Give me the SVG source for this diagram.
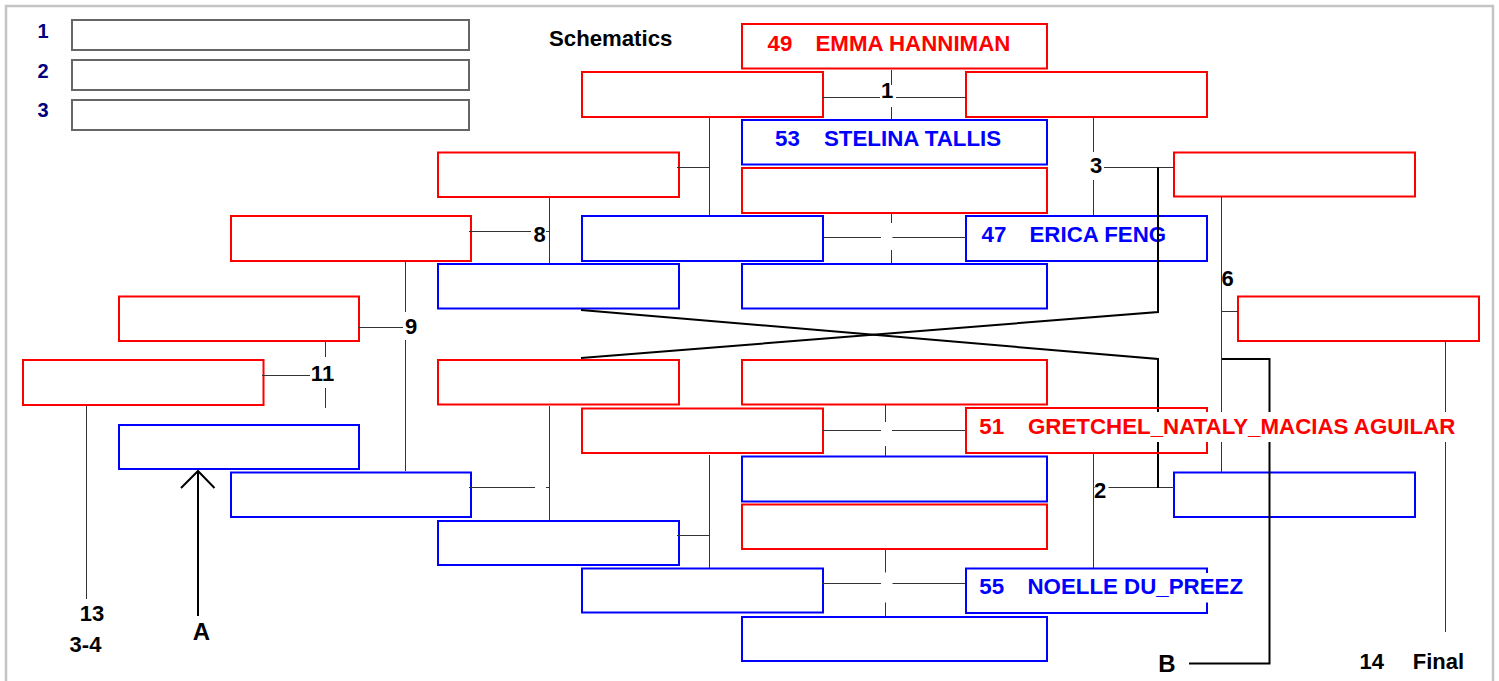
<svg xmlns="http://www.w3.org/2000/svg" width="1499" height="681" viewBox="0 0 1499 681">
<style>
.r{fill:#fff;stroke:#f00;stroke-width:2}
.rn{fill:none;stroke:#f00;stroke-width:2}
.b{fill:#fff;stroke:#00f;stroke-width:2}
.bn{fill:none;stroke:#00f;stroke-width:2}
.lg{fill:#fff;stroke:#666;stroke-width:2}
.c{stroke:#333;stroke-width:1;fill:none}
.k{stroke:#000;stroke-width:2;fill:none}
.bg{fill:#fff}
text{font-family:"Liberation Sans",Arial,sans-serif;font-weight:bold;font-size:22px}
.tr{fill:#f00;font-size:22.3px}.tb{fill:#00f;font-size:22.3px}.n{fill:#000}
.ln{fill:#000080;font-size:20px}
</style>
<rect x="6" y="6" width="1487" height="700" fill="#fff" stroke="#c4c4c4" stroke-width="2.5"/>
<g id="legend">
<text class="ln" x="43" y="37.5" text-anchor="middle">1</text>
<text class="ln" x="43" y="77.5" text-anchor="middle">2</text>
<text class="ln" x="43" y="117" text-anchor="middle">3</text>
<rect class="lg" x="72" y="20" width="397" height="30"/>
<rect class="lg" x="72" y="60" width="397" height="30"/>
<rect class="lg" x="72" y="100" width="397" height="30"/>
</g>
<text id="title" class="n" x="549" y="45.5" style="font-size:22.2px">Schematics</text>
<g id="n49"><rect class="r" x="742" y="24" width="305" height="44.5"/><text class="tr" y="50.7"><tspan x="767.5">49</tspan><tspan x="815.5">EMMA HANNIMAN</tspan></text></g>
<g id="n53"><rect class="b" x="742" y="120" width="305" height="44.5"/><text class="tb" y="146"><tspan x="775">53</tspan><tspan x="824">STELINA TALLIS</tspan></text></g>
<g id="c1r"><rect class="r" x="742" y="168" width="305" height="45"/></g>
<g id="c2b"><rect class="b" x="742" y="264" width="305" height="44.5"/></g>
<g id="c3r"><rect class="r" x="742" y="360" width="305" height="44.5"/></g>
<g id="c4b"><rect class="b" x="742" y="456.5" width="305" height="45"/></g>
<g id="c5r"><rect class="r" x="742" y="504.5" width="305" height="44.5"/></g>
<g id="c6b"><rect class="b" x="742" y="617" width="305" height="44"/></g>
<g id="m1r"><rect class="r" x="582" y="72" width="241" height="45"/></g>
<g id="m2b"><rect class="b" x="582" y="216" width="241" height="45"/></g>
<g id="m3r"><rect class="r" x="582" y="408.5" width="241" height="44.5"/></g>
<g id="m4b"><rect class="b" x="582" y="568.5" width="241" height="44"/></g>
<g id="q1r"><rect class="r" x="966" y="72" width="241" height="45"/></g>
<g id="n47"><rect class="b" x="966" y="216" width="241" height="45"/><text class="tb" y="241.7"><tspan x="981.5">47</tspan><tspan x="1029.5">ERICA FENG</tspan></text></g>
<g id="l1r"><rect class="r" x="438" y="152.5" width="241" height="44.5"/></g>
<g id="l2b"><rect class="b" x="438" y="264" width="241" height="44.5"/></g>
<g id="l3r"><rect class="r" x="438" y="360" width="241" height="44.5"/></g>
<g id="l4b"><rect class="b" x="438" y="521" width="241" height="44"/></g>
<g id="k1r"><rect class="r" x="231" y="216" width="240" height="45"/></g>
<g id="k2b"><rect class="b" x="231" y="472.5" width="240" height="44.5"/></g>
<g id="j1r"><rect class="r" x="119" y="296.5" width="240" height="44.5"/></g>
<g id="j2b"><rect class="b" x="119" y="425" width="240" height="44"/></g>
<g id="i1r"><rect class="r" x="23" y="360" width="240.5" height="45"/></g>
<g id="s1r"><rect class="r" x="1174" y="152.5" width="241" height="44"/></g>
<g id="s2b"><rect class="b" x="1174" y="472.5" width="241" height="44.5"/></g>
<g id="f1r"><rect class="r" x="1238" y="296.5" width="241" height="44.5"/></g>
<g id="connectors">
<path class="c" d="M822 97.5H966M891.5 70V119"/>
<path class="c" d="M824 237.5H966M891.5 214V263"/>
<path class="c" d="M822 430.5H966M885.5 405V456"/>
<path class="c" d="M822 583.5H966M885.5 550V616"/>
<path class="c" d="M709.5 118V215M677 167.5H709.5"/>
<path class="c" d="M549.5 198V263M469 231.5H549.5"/>
<path class="c" d="M405.5 261V471M358 327.5H405.5"/>
<path class="c" d="M325.5 342V408M262 375.5H325.5"/>
<path class="c" d="M549.5 406V520M469 487.5H549.5"/>
<path class="c" d="M709.5 455V568M677 535.5H709.5"/>
<path class="c" d="M86.5 406V599"/>
<path class="c" d="M1093.5 117V215M1093.5 167.5H1174"/>
<path class="c" d="M1093.5 454V568M1093.5 487.5H1174"/>
<path class="c" d="M1221.5 197V472M1221.5 311.5H1238"/>
<path class="c" d="M1445.5 341V632"/>
<path class="k" d="M1158 167.5V312L581 358"/>
<path class="k" d="M581 310L1158 359V488"/>
<path class="k" d="M1222 359H1269.5V663.5H1189"/>
<path class="k" d="M198 616V471M181 488L198 471L214.5 488"/>
<rect class="bg" x="880" y="85" width="16" height="22"/>
<rect class="bg" x="881" y="223" width="11.5" height="27"/>
<rect class="bg" x="881" y="422" width="11" height="24"/>
<rect class="bg" x="881" y="572.5" width="11.5" height="30"/>
<rect class="bg" x="531" y="221" width="15" height="25"/>
<rect class="bg" x="535" y="476" width="11" height="24"/>
<rect class="bg" x="403" y="312" width="15" height="28"/>
<rect class="bg" x="310" y="357" width="25" height="31"/>
<rect class="bg" x="1088" y="152" width="16" height="28"/>
<rect class="bg" x="1094.5" y="476" width="14" height="26"/>
<text class="n" x="887" y="98.3" text-anchor="middle">1</text>
<text class="n" x="539.5" y="242" text-anchor="middle">8</text>
<text class="n" x="411" y="333.5" text-anchor="middle">9</text>
<text class="n" x="322.5" y="381" text-anchor="middle">11</text>
<text class="n" x="1096" y="173.3" text-anchor="middle">3</text>
<text class="n" x="1100" y="498.3" text-anchor="middle">2</text>
<text class="n" x="1227.5" y="285.7" text-anchor="middle">6</text>
<text class="n" x="92" y="621" text-anchor="middle">13</text>
<text class="n" x="85.5" y="652.3" text-anchor="middle">3-4</text>
<text class="n" x="1371.7" y="669" text-anchor="middle">14</text>
<text class="n" x="1412.7" y="669">Final</text>
<text class="n" x="201.3" y="640" text-anchor="middle" style="font-size:24px">A</text>
<text class="n" x="1167" y="671.5" text-anchor="middle" style="font-size:24px">B</text>
</g>
<g id="n51"><rect class="rn" x="966" y="408" width="241" height="45"/><rect class="bg" x="975" y="412" width="486" height="30"/><text class="tr" y="434"><tspan x="979.3">51</tspan><tspan x="1028">GRETCHEL_NATALY_MACIAS AGUILAR</tspan></text></g>
<g id="n55"><rect class="bn" x="966" y="568.5" width="241" height="44.5"/><rect class="bg" x="975" y="573" width="270" height="29.5"/><text class="tb" y="594"><tspan x="979.3">55</tspan><tspan x="1027.5">NOELLE DU_PREEZ</tspan></text></g>
</svg>
